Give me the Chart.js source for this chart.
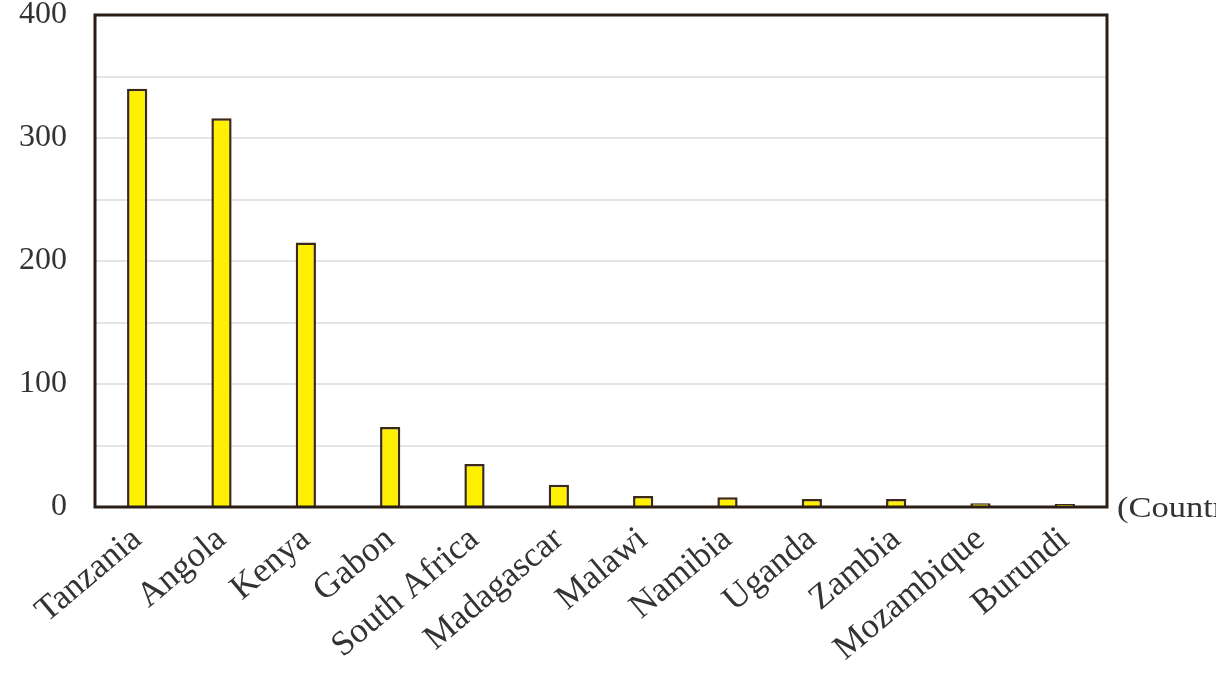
<!DOCTYPE html>
<html>
<head>
<meta charset="utf-8">
<script src="https://cdn.jsdelivr.net/npm/chart.js@4"></script>
<style>
  html, body { margin: 0; padding: 0; background: #fff; }
  #wrap { width: 1216px; height: 684px; }
</style>
</head>
<body>
<div id="wrap"><canvas id="myChart" width="1216" height="684"></canvas></div>
<script>
const countries = ['Tanzania', 'Angola', 'Kenya', 'Gabon', 'South Africa', 'Madagascar',
    'Malawi', 'Namibia', 'Uganda', 'Zambia', 'Mozambique', 'Burundi'];
const counts = [340, 316, 215, 65, 35, 18, 9, 8, 6.5, 6.5, 3, 2.5];
const yTicks = [0, 100, 200, 300, 400];

const ctx = document.getElementById('myChart').getContext('2d');

// dark frame round the plot area plus the "(Country)" note at the axis end
const framePlugin = {
    id: 'frame',
    afterDatasetsDraw(chart) {
        const a = chart.chartArea;
        const c = chart.ctx;
        c.save();
        c.strokeStyle = '#2b1e16';
        c.lineWidth = 3;
        c.strokeRect(a.left, a.top, a.right - a.left, a.bottom - a.top);
        c.fillStyle = '#333';
        c.font = '30px "Liberation Serif"';
        c.textBaseline = 'middle';
        c.translate(a.right + 10, a.bottom + 2);
        c.scale(1.15, 1);
        c.fillText('(Country)', 0, 0);
        c.restore();
    }
};

const myChart = new Chart(ctx, {
    type: 'bar',
    data: {
        labels: countries,
        datasets: [{
            label: 'Count',
            data: counts,
            backgroundColor: '#fff000',
            borderColor: '#3b2a1c',
            borderWidth: 2.5,
            barPercentage: 0.48,
            categoryPercentage: 0.5
        }]
    },
    options: {
        responsive: false,
        animation: false,
        layout: { padding: { top: 15, right: 109, left: 0, bottom: 0 } },
        plugins: {
            legend: { display: false },
            tooltip: { enabled: false }
        },
        scales: {
            x: {
                grid: { display: false },
                border: { display: false },
                ticks: {
                    color: '#333',
                    font: { family: 'Liberation Serif', size: 35 },
                    minRotation: 40,
                    maxRotation: 40,
                    padding: 4
                },
                afterFit(scale) { scale.height = 177; }
            },
            y: {
                min: 0,
                max: 400,
                grid: { color: '#e4e4e4', lineWidth: 2, drawTicks: false },
                border: { display: false },
                ticks: {
                    stepSize: 50,
                    color: '#333',
                    padding: 28,
                    font: { family: 'Liberation Serif', size: 32 },
                    callback: v => yTicks.includes(v) ? v : ''
                },
                afterFit(scale) {
                    scale.width = 95;
                    scale.paddingTop = 0;
                    scale.paddingBottom = 0;
                }
            }
        }
    },
    plugins: [framePlugin]
});
</script>
</body>
</html>
